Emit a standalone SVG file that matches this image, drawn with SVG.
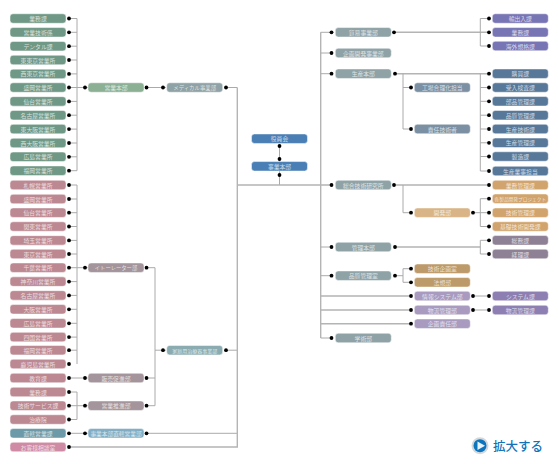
<svg xmlns="http://www.w3.org/2000/svg" width="558" height="464" viewBox="0 0 558 464">
<style>
text{font-family:"Noto Sans CJK JP","Liberation Sans",sans-serif;font-size:5.8px;fill:#fff;fill-opacity:.72;text-anchor:middle;dominant-baseline:central}
rect{stroke:#fff;stroke-width:.5}
.l{stroke:#aaa;stroke-width:1;fill:none}
.t{stroke:#b4b4b4;stroke-width:1.4;fill:none}
.a{fill:#6f9886}.b{fill:#bc8993}.c{fill:#8aabb0}.d{fill:#8fa2a6}.e{fill:#a3959b}
.g{fill:#4a7fb5}.h{fill:#7875b5}.i{fill:#58789a}.j{fill:#7b90a3}.k{fill:#d2a46d}.m{fill:#d9b486}.n{fill:#8e8095}.o{fill:#bd9a69}.p{fill:#a89bbf}.q{fill:#8e7fb2}
.r{fill:#cf8aa4}.s{fill:#6d9aa8}.u{fill:#80adc4}.v{fill:#8bb093}
</style>
<defs><circle id="dot" r="1.9" fill="#000"/><rect id="w" width="56" height="9.5" rx="3" ry="3"/></defs>
<g id="connectors">
<path class="l" d="M69 18.5H77V170.700M69 32.300H77M69 46.200H77M69 60H77M69 73.900H77M69 87.500H88M69 101.400H77M69 115.200H77M69 129.100H77M69 143H77M69 156.800H77M69 170.700H77"/>
<path class="l" d="M146 87.500H166M226 87.500H237.300"/>
<path class="l" d="M69 185H77V364M69 199H77M69 212.700H77M69 226.500H77M69 240.400H77M69 254H77M69 267.700H88M69 281.600H77M69 295.400H77M69 309.300H77M69 323.300H77M69 337.100H77M69 350.200H77"/>
<path class="l" d="M146 267.700H155V405.700H146M146 378H155M155 350.200H166M226 350.200H237.300"/>
<path class="l" d="M69 378H88M69 392H77V419.500H69M69 405.700H88"/>
<path class="l" d="M69 433.300H88M146 433.300H237.300"/>
<path class="t" d="M69 447H237.300V87.500"/>
<path class="l" d="M279.500 145V185"/>
<path class="t" d="M237.300 185H331M320.700 32.300V338"/>
<path class="l" d="M320.700 32.300H331M320.700 53H331M320.700 73.700H331M320.700 247H331M320.700 275.700H331M320.700 338H331"/>
<path class="t" d="M320.700 296H411M320.700 310H411M320.700 323.700H411"/>
<path class="t" d="M395 32.300H489M395 73.700H489M395 185H489M395 247H480.300"/>
<path class="l" d="M480.300 18.500H489M480.300 18.500V46H489M480.300 73.700V171H489M480.300 87.500H489M480.300 101.300H489M480.300 115.200H489M480.300 129H489M480.300 142.800H489M480.300 156.500H489"/>
<path class="l" d="M403 73.700V129H411M403 87.500H411M403 185V212.700H411"/>
<path class="l" d="M473 212.700H489M480.300 198.700V226.500H489M480.300 198.700H489"/>
<path class="l" d="M480.300 240.300V254H489M480.300 240.300H489"/>
<path class="l" d="M395 275.700H403M403 268.700V282.300H411M403 268.700H411"/>
<path class="l" d="M473 296H489M473 310H489"/>
</g>
<g id="dots">
<use href="#dot" x="69" y="18.500"/><use href="#dot" x="69" y="32.300"/><use href="#dot" x="69" y="46.200"/><use href="#dot" x="69" y="60"/><use href="#dot" x="69" y="73.900"/><use href="#dot" x="69" y="87.500"/><use href="#dot" x="69" y="101.400"/><use href="#dot" x="69" y="115.200"/><use href="#dot" x="69" y="129.100"/><use href="#dot" x="69" y="143"/><use href="#dot" x="69" y="156.800"/><use href="#dot" x="69" y="170.700"/>
<use href="#dot" x="69" y="185"/><use href="#dot" x="69" y="199"/><use href="#dot" x="69" y="212.700"/><use href="#dot" x="69" y="226.500"/><use href="#dot" x="69" y="240.400"/><use href="#dot" x="69" y="254"/><use href="#dot" x="69" y="267.700"/><use href="#dot" x="69" y="281.600"/><use href="#dot" x="69" y="295.400"/><use href="#dot" x="69" y="309.300"/><use href="#dot" x="69" y="323.300"/><use href="#dot" x="69" y="337.100"/><use href="#dot" x="69" y="350.200"/><use href="#dot" x="69" y="364"/><use href="#dot" x="69" y="378"/><use href="#dot" x="69" y="392"/><use href="#dot" x="69" y="405.700"/><use href="#dot" x="69" y="419.500"/><use href="#dot" x="69" y="433.300"/><use href="#dot" x="69" y="447"/>
<use href="#dot" x="85" y="87.500"/><use href="#dot" x="85" y="267.700"/><use href="#dot" x="85" y="378"/><use href="#dot" x="85" y="405.700"/><use href="#dot" x="85" y="433.300"/>
<use href="#dot" x="146.500" y="87.500"/><use href="#dot" x="146.500" y="267.700"/><use href="#dot" x="146.500" y="378"/><use href="#dot" x="146.500" y="405.700"/><use href="#dot" x="146.500" y="433.300"/>
<use href="#dot" x="163" y="87.500"/><use href="#dot" x="163" y="350.200"/><use href="#dot" x="226" y="87.500"/><use href="#dot" x="226" y="350.200"/>
<use href="#dot" x="279.500" y="146"/><use href="#dot" x="279.500" y="159"/><use href="#dot" x="279.500" y="175"/>
<use href="#dot" x="331.500" y="32.300"/><use href="#dot" x="331.500" y="53"/><use href="#dot" x="331.500" y="73.700"/><use href="#dot" x="331.500" y="185"/><use href="#dot" x="331.500" y="247"/><use href="#dot" x="331.500" y="275.700"/><use href="#dot" x="331.500" y="338"/>
<use href="#dot" x="394" y="32.300"/><use href="#dot" x="395" y="73.700"/><use href="#dot" x="394" y="185"/><use href="#dot" x="395" y="247"/><use href="#dot" x="395" y="275.700"/>
<use href="#dot" x="411" y="87.500"/><use href="#dot" x="411" y="129"/><use href="#dot" x="411" y="212.700"/><use href="#dot" x="411" y="268.700"/><use href="#dot" x="411" y="282.300"/><use href="#dot" x="411" y="296"/><use href="#dot" x="411" y="310"/><use href="#dot" x="411" y="323.700"/>
<use href="#dot" x="473" y="212.700"/><use href="#dot" x="473" y="296"/><use href="#dot" x="473" y="310"/>
<use href="#dot" x="489" y="18.500"/><use href="#dot" x="489" y="32.300"/><use href="#dot" x="489" y="46"/><use href="#dot" x="489" y="73.700"/><use href="#dot" x="489" y="87.500"/><use href="#dot" x="489" y="101.300"/><use href="#dot" x="489" y="115.200"/><use href="#dot" x="489" y="129"/><use href="#dot" x="489" y="142.800"/><use href="#dot" x="489" y="156.500"/><use href="#dot" x="489" y="171"/><use href="#dot" x="489" y="185"/><use href="#dot" x="489" y="198.700"/><use href="#dot" x="489" y="212.700"/><use href="#dot" x="489" y="226.500"/><use href="#dot" x="489" y="240.300"/><use href="#dot" x="489" y="254"/><use href="#dot" x="489" y="296"/><use href="#dot" x="489" y="310"/>
</g>
<g id="n1"><use href="#w" class="a" x="10" y="13.750"/><text x="38" y="18.500">業務課</text></g>
<g id="n2"><use href="#w" class="a" x="10" y="27.550"/><text x="38" y="32.300">営業技術係</text></g>
<g id="n3"><use href="#w" class="a" x="10" y="41.450"/><text x="38" y="46.200">デンタル課</text></g>
<g id="n4"><use href="#w" class="a" x="10" y="55.250"/><text x="38" y="60">東東京営業所</text></g>
<g id="n5"><use href="#w" class="a" x="10" y="69.150"/><text x="38" y="73.900">西東京営業所</text></g>
<g id="n6"><use href="#w" class="a" x="10" y="82.750"/><text x="38" y="87.500">盛岡営業所</text></g>
<g id="n7"><use href="#w" class="a" x="10" y="96.650"/><text x="38" y="101.400">仙台営業所</text></g>
<g id="n8"><use href="#w" class="a" x="10" y="110.450"/><text x="38" y="115.200">名古屋営業所</text></g>
<g id="n9"><use href="#w" class="a" x="10" y="124.350"/><text x="38" y="129.100">東大阪営業所</text></g>
<g id="n10"><use href="#w" class="a" x="10" y="138.250"/><text x="38" y="143">西大阪営業所</text></g>
<g id="n11"><use href="#w" class="a" x="10" y="152.050"/><text x="38" y="156.800">広島営業所</text></g>
<g id="n12"><use href="#w" class="a" x="10" y="165.950"/><text x="38" y="170.700">福岡営業所</text></g>
<g id="n13"><use href="#w" class="b" x="10" y="180.250"/><text x="38" y="185">札幌営業所</text></g>
<g id="n14"><use href="#w" class="b" x="10" y="194.250"/><text x="38" y="199">盛岡営業所</text></g>
<g id="n15"><use href="#w" class="b" x="10" y="207.950"/><text x="38" y="212.700">仙台営業所</text></g>
<g id="n16"><use href="#w" class="b" x="10" y="221.750"/><text x="38" y="226.500">関東営業所</text></g>
<g id="n17"><use href="#w" class="b" x="10" y="235.650"/><text x="38" y="240.400">埼玉営業所</text></g>
<g id="n18"><use href="#w" class="b" x="10" y="249.250"/><text x="38" y="254">東京営業所</text></g>
<g id="n19"><use href="#w" class="b" x="10" y="262.950"/><text x="38" y="267.700">千葉営業所</text></g>
<g id="n20"><use href="#w" class="b" x="10" y="276.850"/><text x="38" y="281.600">神奈川営業所</text></g>
<g id="n21"><use href="#w" class="b" x="10" y="290.650"/><text x="38" y="295.400">名古屋営業所</text></g>
<g id="n22"><use href="#w" class="b" x="10" y="304.550"/><text x="38" y="309.300">大阪営業所</text></g>
<g id="n23"><use href="#w" class="b" x="10" y="318.550"/><text x="38" y="323.300">広島営業所</text></g>
<g id="n24"><use href="#w" class="b" x="10" y="332.350"/><text x="38" y="337.100">四国営業所</text></g>
<g id="n25"><use href="#w" class="b" x="10" y="345.450"/><text x="38" y="350.200">福岡営業所</text></g>
<g id="n26"><use href="#w" class="b" x="10" y="359.250"/><text x="38" y="364">鹿児島営業所</text></g>
<g id="n27"><use href="#w" class="b" x="10" y="373.250"/><text x="38" y="378">教育課</text></g>
<g id="n28"><use href="#w" class="b" x="10" y="387.250"/><text x="38" y="392">業務課</text></g>
<g id="n29"><use href="#w" class="b" x="10" y="400.950"/><text x="38" y="405.700">技術サービス課</text></g>
<g id="n30"><use href="#w" class="b" x="10" y="414.750"/><text x="38" y="419.500">治療院</text></g>
<g id="n31"><use href="#w" class="s" x="10" y="428.550"/><text x="38" y="433.300">直轄営業課</text></g>
<g id="n32"><use href="#w" class="r" x="10" y="442.250"/><text x="38" y="447">お客様相談室</text></g>
<g id="m1"><use href="#w" class="v" x="88" y="82.750"/><text x="116" y="87.500">営業本部</text></g>
<g id="m2"><use href="#w" class="e" x="88" y="262.950"/><text x="116" y="267.700" style="font-size:5.3px">イトーレーター部</text></g>
<g id="m3"><use href="#w" class="e" x="88" y="373.250"/><text x="116" y="378">販売促進部</text></g>
<g id="m4"><use href="#w" class="e" x="88" y="400.950"/><text x="116" y="405.700">営業推進部</text></g>
<g id="m5"><use href="#w" class="u" x="88" y="428.550"/><text x="116" y="433.300" style="font-size:5.7px">事業本部直轄営業部</text></g>
<g id="d1"><use href="#w" class="d" x="166.700" y="82.750"/><text x="194.700" y="87.500" style="font-size:5.4px">メディカル事業部</text></g>
<g id="d2"><use href="#w" class="c" x="166.700" y="345.450"/><text x="194.700" y="350.200" style="font-size:5px">家庭用治療器事業部</text></g>
<g id="top1"><use href="#w" class="g" x="251.500" y="133.950"/><text x="279.500" y="138.700">役員会</text></g>
<g id="top2"><use href="#w" class="g" x="251.500" y="161.550"/><text x="279.500" y="166.300">事業本部</text></g>
<g id="r1"><use href="#w" class="d" x="335.300" y="27.550"/><text x="363.300" y="32.300">貿易事業部</text></g>
<g id="r2"><use href="#w" class="d" x="335.300" y="48.250"/><text x="363.300" y="53">企画開発事業部</text></g>
<g id="r3"><use href="#w" class="d" x="335.300" y="68.950"/><text x="363.300" y="73.700">生産本部</text></g>
<g id="r4"><use href="#w" class="d" x="335.300" y="180.250"/><text x="363.300" y="185">総合技術研究所</text></g>
<g id="r5"><use href="#w" class="d" x="335.300" y="242.250"/><text x="363.300" y="247">管理本部</text></g>
<g id="r6"><use href="#w" class="d" x="335.300" y="270.950"/><text x="363.300" y="275.700">品質管理室</text></g>
<g id="r7"><use href="#w" class="d" x="335.300" y="333.250"/><text x="363.300" y="338">学術部</text></g>
<g id="s1"><use href="#w" class="j" x="414.300" y="82.750"/><text x="442.300" y="87.500">工場合理化担当</text></g>
<g id="s2"><use href="#w" class="j" x="414.300" y="124.250"/><text x="442.300" y="129">責任技術者</text></g>
<g id="s3"><use href="#w" class="m" x="414.300" y="207.950"/><text x="442.300" y="212.700">開発部</text></g>
<g id="s4"><use href="#w" class="o" x="414.300" y="263.950"/><text x="442.300" y="268.700">技術企画室</text></g>
<g id="s5"><use href="#w" class="o" x="414.300" y="277.550"/><text x="442.300" y="282.300">法規部</text></g>
<g id="s6"><use href="#w" class="p" x="414.300" y="291.250"/><text x="442.300" y="296">情報システム部</text></g>
<g id="s7"><use href="#w" class="p" x="414.300" y="305.250"/><text x="442.300" y="310">物流管理部</text></g>
<g id="s8"><use href="#w" class="p" x="414.300" y="318.950"/><text x="442.300" y="323.700">企画責任部</text></g>
<g id="t1"><use href="#w" class="h" x="492.300" y="13.750"/><text x="520.300" y="18.500">輸出入課</text></g>
<g id="t2"><use href="#w" class="h" x="492.300" y="27.550"/><text x="520.300" y="32.300">業務課</text></g>
<g id="t3"><use href="#w" class="h" x="492.300" y="41.250"/><text x="520.300" y="46">海外規格課</text></g>
<g id="t4"><use href="#w" class="i" x="492.300" y="68.950"/><text x="520.300" y="73.700">購買課</text></g>
<g id="t5"><use href="#w" class="i" x="492.300" y="82.750"/><text x="520.300" y="87.500">受入検査課</text></g>
<g id="t6"><use href="#w" class="i" x="492.300" y="96.550"/><text x="520.300" y="101.300">部品管理課</text></g>
<g id="t7"><use href="#w" class="i" x="492.300" y="110.450"/><text x="520.300" y="115.200">品質管理課</text></g>
<g id="t8"><use href="#w" class="i" x="492.300" y="124.250"/><text x="520.300" y="129">生産技術課</text></g>
<g id="t9"><use href="#w" class="i" x="492.300" y="138.050"/><text x="520.300" y="142.800">生産管理課</text></g>
<g id="t10"><use href="#w" class="i" x="492.300" y="151.750"/><text x="520.300" y="156.500">製造課</text></g>
<g id="t11"><use href="#w" class="i" x="492.300" y="166.250"/><text x="520.300" y="171">生産業事担当</text></g>
<g id="t12"><use href="#w" class="k" x="492.300" y="180.250"/><text x="520.300" y="185">業務管理課</text></g>
<g id="t13"><use href="#w" class="k" x="492.300" y="193.950"/><text x="520.300" y="198.700" style="font-size:4.7px">各製品開発プロジェクト</text></g>
<g id="t14"><use href="#w" class="k" x="492.300" y="207.950"/><text x="520.300" y="212.700">技術管理課</text></g>
<g id="t15"><use href="#w" class="k" x="492.300" y="221.750"/><text x="520.300" y="226.500">基礎技術開発課</text></g>
<g id="t16"><use href="#w" class="n" x="492.300" y="235.550"/><text x="520.300" y="240.300">総務課</text></g>
<g id="t17"><use href="#w" class="n" x="492.300" y="249.250"/><text x="520.300" y="254">経理課</text></g>
<g id="t18"><use href="#w" class="q" x="492.300" y="291.250"/><text x="520.300" y="296">システム課</text></g>
<g id="t19"><use href="#w" class="q" x="492.300" y="305.250"/><text x="520.300" y="310">物流管理課</text></g>
<g id="zoom">
<circle cx="480" cy="445.700" r="8.500" fill="#d5d8da"/>
<circle cx="480" cy="445.700" r="6.500" fill="#0d75bd"/>
<path d="M477.500 441.500L485 445.700L477.500 450Z" fill="#e8f3fa"/>
<text x="518" y="445.500" style="font-size:12.500px;fill:#1273b8;fill-opacity:1;font-weight:500">拡大する</text>
</g>
</svg>
